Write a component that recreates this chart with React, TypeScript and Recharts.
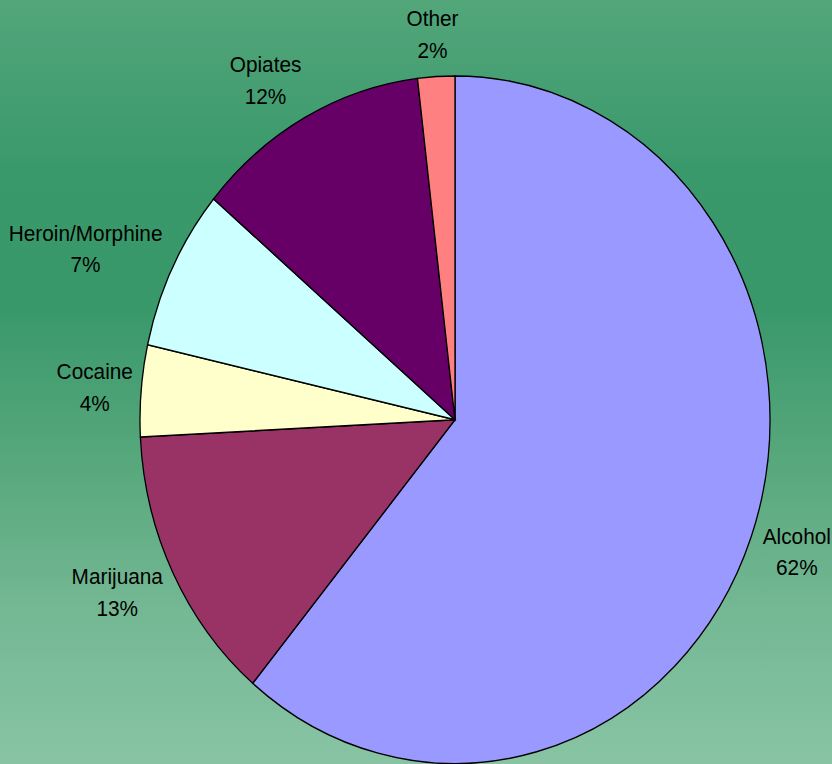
import React from 'react';
import { PieChart, Pie, Cell } from 'recharts';

const categories = ['Alcohol', 'Marijuana', 'Cocaine', 'Heroin/Morphine', 'Opiates', 'Other'];
const shares = [61.1, 13.1, 4.3, 7.6, 12.0, 1.9];
const percentLabels = ['62%', '13%', '4%', '7%', '12%', '2%'];
const sliceColors = ['#9999ff', '#993366', '#ffffcc', '#ccffff', '#660066', '#ff8080'];

const data = categories.map((name, i) => ({ name, value: shares[i], pct: percentLabels[i] }));

const W = 832;
const H = 700;
const STRETCH = 764 / 700;
const RADIAN = Math.PI / 180;
const FONT = '"Liberation Sans", Arial, sans-serif';

const renderLabel = (props: any) => {
  const { cx, cy, midAngle, outerRadius, index } = props;
  const name = categories[index];
  const pct = percentLabels[index];
  const cos = Math.cos(-midAngle * RADIAN);
  const sin = Math.sin(-midAngle * RADIAN);
  const ex = cx + outerRadius * cos;
  const ey = cy + outerRadius * sin;
  const halfW = (Math.max(name.length, pct.length) * 10.4) / 2;
  const halfH = 25;
  const gap = 10;
  const wx = Math.sign(cos) * Math.min(1, Math.abs(cos) * 2);
  const x = ex + cos * gap + wx * halfW;
  const y = ey + sin * (14 + halfH);
  return (
    <text x={x} y={y - 7.3} textAnchor="middle" fontSize={20.8} fontFamily={FONT} fill="#000">
      <tspan x={x}>{name}</tspan>
      <tspan x={x} dy={29}>{pct}</tspan>
    </text>
  );
};

export default function App() {
  return (
    <div
      style={{
        position: 'absolute',
        left: 0,
        top: 0,
        width: 832,
        height: 764,
        overflow: 'hidden',
        background:
          'linear-gradient(to bottom, #52a67a 0%, #3a996b 22%, #38986a 40%, #5aa97e 62%, #74b894 80%, #88c4a4 100%)',
      }}
    >
      <div style={{ width: W, height: H, transform: `scaleY(${STRETCH})`, transformOrigin: '0 0' }}>
        <PieChart width={W} height={H} margin={{ top: 0, right: 0, bottom: 0, left: 0 }}>
          <Pie
            data={data}
            dataKey="value"
            nameKey="name"
            cx={455}
            cy={384.6}
            outerRadius={315}
            startAngle={90}
            endAngle={-270}
            stroke="#000"
            strokeWidth={1.3}
            label={renderLabel}
            labelLine={false}
            isAnimationActive={false}
          >
            {data.map((d, i) => (
              <Cell key={d.name} fill={sliceColors[i]} />
            ))}
          </Pie>
        </PieChart>
      </div>
    </div>
  );
}
